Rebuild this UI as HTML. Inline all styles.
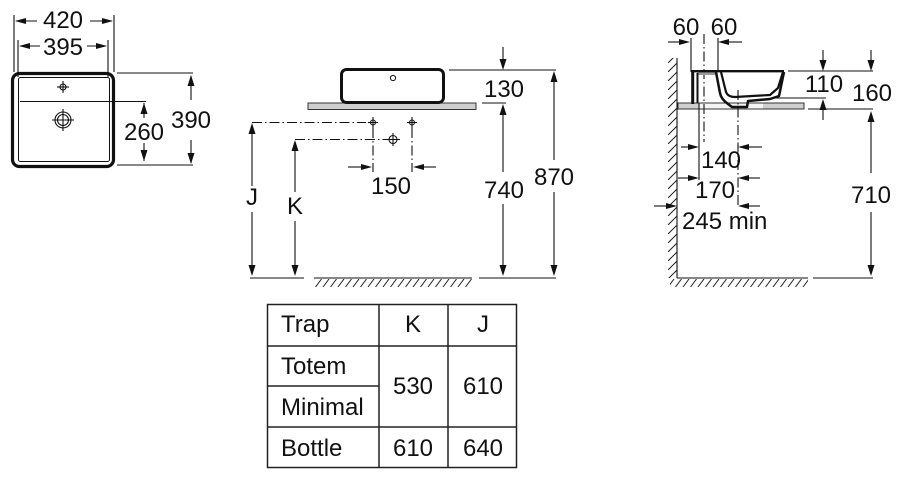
<!DOCTYPE html>
<html><head><meta charset="utf-8"><style>
html,body{margin:0;padding:0;background:#fff;}
svg{display:block;}
text{font-family:"Liberation Sans",Arial,sans-serif;font-size:24px;fill:#111;}
</style></head><body>
<svg width="905" height="477" viewBox="0 0 905 477" xmlns="http://www.w3.org/2000/svg">
<defs>
<pattern id="hf" patternUnits="userSpaceOnUse" x="0" y="279" width="7.5" height="8">
<line x1="0.5" y1="8" x2="6.5" y2="0" stroke="#222" stroke-width="1"/>
</pattern>
<pattern id="hw" patternUnits="userSpaceOnUse" x="668" y="0" width="9" height="9">
<line x1="0" y1="9" x2="9" y2="0" stroke="#222" stroke-width="1"/>
</pattern>
</defs>
<g stroke="#111" stroke-width="1.1" fill="none">
<!-- LEFT PLAN -->
<rect x="12.5" y="73.5" width="101" height="93" rx="7" stroke-width="3.2"/>
<rect x="18.5" y="77.5" width="91" height="84" rx="2" stroke-width="1"/>
<line x1="20" y1="101.5" x2="146" y2="101.5"/>
<circle cx="63" cy="87" r="3"/>
<line x1="57" y1="87" x2="69" y2="87"/><line x1="63" y1="81" x2="63" y2="93"/>
<circle cx="63" cy="120" r="8"/><circle cx="63" cy="120" r="5.5"/>
<line x1="52" y1="120" x2="74" y2="120"/><line x1="63" y1="109" x2="63" y2="131"/>
<!-- 420 / 395 ext -->
<line x1="14" y1="15" x2="14" y2="72"/><line x1="114" y1="15" x2="114" y2="72"/>
<line x1="18" y1="40" x2="18" y2="77"/><line x1="108" y1="40" x2="108" y2="77"/>
<line x1="16" y1="21" x2="37" y2="21"/><line x1="90" y1="21" x2="112" y2="21"/>
<line x1="20" y1="46" x2="40" y2="46"/><line x1="87" y1="46" x2="106" y2="46"/>
<!-- 390 / 260 -->
<line x1="117" y1="73" x2="193" y2="73"/><line x1="117" y1="165" x2="193" y2="165"/>
<line x1="191" y1="76" x2="191" y2="100"/><line x1="191" y1="140" x2="191" y2="163"/>
<line x1="144" y1="103" x2="144" y2="118"/><line x1="144" y1="143" x2="144" y2="161"/>

<!-- MIDDLE -->
<rect x="308" y="103" width="168" height="6.5" fill="#cfcfcf" stroke="#333" stroke-width="1"/>
<rect x="341.5" y="69.5" width="102" height="33" rx="5" stroke-width="3"/>
<circle cx="393" cy="78" r="2.6" stroke-width="1"/>
<line x1="449" y1="70" x2="556" y2="70"/>
<line x1="482" y1="103" x2="506" y2="103"/>
<line x1="503" y1="47" x2="503" y2="62"/>
<line x1="503" y1="112" x2="503" y2="172"/>
<line x1="503" y1="204" x2="503" y2="266"/>
<line x1="554" y1="80" x2="554" y2="160"/>
<line x1="554" y1="192" x2="554" y2="266"/>
<!-- dash dot -->
<g stroke-dasharray="10 3 1.5 3">
<line x1="252" y1="122.5" x2="366" y2="122.5"/>
<line x1="295" y1="139.5" x2="386" y2="139.5"/>
<line x1="373" y1="128" x2="373" y2="172"/>
<line x1="412" y1="128" x2="412" y2="172"/>
</g>
<circle cx="373" cy="122.5" r="2.5"/><line x1="368" y1="122.5" x2="378" y2="122.5"/><line x1="373" y1="117" x2="373" y2="128"/>
<circle cx="412" cy="122.5" r="2.5"/><line x1="407" y1="122.5" x2="417" y2="122.5"/><line x1="412" y1="117" x2="412" y2="128"/>
<circle cx="393" cy="139.5" r="4"/><line x1="386" y1="139.5" x2="400" y2="139.5"/><line x1="393" y1="133" x2="393" y2="146"/>
<line x1="348" y1="167" x2="364" y2="167"/><line x1="421" y1="167" x2="436" y2="167"/>
<line x1="252" y1="131" x2="252" y2="186"/><line x1="252" y1="212" x2="252" y2="266"/>
<line x1="295" y1="148" x2="295" y2="192"/><line x1="295" y1="221" x2="295" y2="266"/>
<line x1="250" y1="278" x2="304" y2="278"/>
<line x1="314" y1="278" x2="472" y2="278"/>
<line x1="479" y1="278" x2="556" y2="278"/>

<!-- RIGHT SIDE -->
<rect x="678" y="103" width="126" height="6" fill="#cfcfcf" stroke="#333" stroke-width="1"/>
<rect x="699" y="103.5" width="64" height="5" fill="#f4f4f4" stroke="none"/>
<line x1="677" y1="58" x2="677" y2="278"/>
<line x1="677" y1="278" x2="808" y2="278"/>
<line x1="813" y1="278" x2="873" y2="278"/>
<line x1="691" y1="38" x2="691" y2="72"/>
<line x1="718" y1="38" x2="718" y2="72"/>
<line x1="668" y1="42" x2="682" y2="42"/><line x1="726" y1="42" x2="742" y2="42"/>
<g stroke-dasharray="10 3 1.5 3">
<line x1="704" y1="34" x2="704" y2="142"/>
<line x1="738" y1="90" x2="738" y2="208"/>
</g>
<line x1="699" y1="103" x2="699" y2="180"/>
<!-- basin profile -->
<rect x="697" y="72" width="20" height="3" fill="#9a9a9a" stroke="none"/>
<line x1="691" y1="71.2" x2="784" y2="71.2" stroke-width="2.4"/>
<line x1="692.7" y1="71" x2="692.7" y2="104" stroke-width="3"/>
<line x1="697.5" y1="73" x2="697.5" y2="103" stroke-width="2"/>
<path d="M716,72 L720,93 Q721,99 728,104 L732,107 L747,107 L748,101 L770,99 L779,96 L784,72" stroke-width="2.5" stroke-linejoin="round"/>
<path d="M721,72 L726,92 Q728,97 735,97 L770,95 L778,88 L783,72" stroke-width="2.2" stroke-linejoin="round"/>
<!-- dims right -->
<line x1="788" y1="71" x2="873" y2="71"/>
<line x1="773" y1="98" x2="826" y2="98"/>
<line x1="808" y1="109" x2="873" y2="109"/>
<line x1="823" y1="50" x2="823" y2="62"/>
<line x1="823" y1="108" x2="823" y2="120"/>
<line x1="871" y1="50" x2="871" y2="62"/>
<line x1="871" y1="120" x2="871" y2="173"/>
<line x1="871" y1="212" x2="871" y2="266"/>
<line x1="681" y1="147" x2="690" y2="147"/><line x1="747" y1="147" x2="762" y2="147"/>
<line x1="678" y1="178" x2="690" y2="178"/><line x1="747" y1="178" x2="760" y2="178"/>
<line x1="654" y1="206" x2="668" y2="206"/><line x1="747" y1="206" x2="760" y2="206"/>

<!-- TABLE -->
<g stroke="#222" stroke-width="1.5">
<rect x="267.5" y="304.5" width="249" height="163"/>
<line x1="379" y1="304" x2="379" y2="468"/>
<line x1="448" y1="304" x2="448" y2="468"/>
<line x1="267" y1="346" x2="517" y2="346"/>
<line x1="267" y1="386" x2="379" y2="386"/>
<line x1="267" y1="427" x2="517" y2="427"/>
</g>
</g>
<!-- hatches -->
<rect x="314" y="279" width="158" height="8" fill="url(#hf)"/>
<rect x="670" y="279" width="138" height="8" fill="url(#hf)"/>
<rect x="668" y="58" width="9" height="220" fill="url(#hw)"/>

<!-- ARROWHEADS -->
<g fill="#111" stroke="none">
<polygon points="15,21 26,18 26,24"/><polygon points="113,21 102,18 102,24"/>
<polygon points="19,46 30,43 30,49"/><polygon points="107,46 96,43 96,49"/>
<polygon points="191,75 187.5,86 194.5,86"/><polygon points="191,164 187.5,153 194.5,153"/>
<polygon points="144,103 140.5,114 147.5,114"/><polygon points="144,161 140.5,150 147.5,150"/>
<polygon points="503,70 499.5,59 506.5,59"/>
<polygon points="503,104 499.5,115 506.5,115"/>
<polygon points="503,276 499.5,265 506.5,265"/>
<polygon points="554,71 550.5,82 557.5,82"/>
<polygon points="554,276 550.5,265 557.5,265"/>
<polygon points="252,123 248.5,134 255.5,134"/>
<polygon points="252,276 248.5,265 255.5,265"/>
<polygon points="295,140 291.5,151 298.5,151"/>
<polygon points="295,276 291.5,265 298.5,265"/>
<polygon points="372,167 361,164 361,170"/><polygon points="413,167 424,164 424,170"/>
<polygon points="690,42 679,39 679,45"/><polygon points="718,42 729,39 729,45"/>
<polygon points="823,71 819.5,60 826.5,60"/><polygon points="823,99 819.5,110 826.5,110"/>
<polygon points="871,71 867.5,60 874.5,60"/><polygon points="871,111 867.5,122 874.5,122"/>
<polygon points="871,276 867.5,265 874.5,265"/>
<polygon points="699,147 688,144 688,150"/><polygon points="738,147 749,144 749,150"/>
<polygon points="699,178 688,175 688,181"/><polygon points="738,178 749,175 749,181"/>
<polygon points="677,206 666,203 666,209"/><polygon points="738,206 749,203 749,209"/>
</g>

<!-- TEXT -->
<g text-anchor="middle">
<text x="63" y="28">420</text>
<text x="63" y="55">395</text>
<text x="144" y="140">260</text>
<text x="191" y="128">390</text>
<text x="504" y="97">130</text>
<text x="504" y="198">740</text>
<text x="554" y="185">870</text>
<text x="391" y="194">150</text>
<text x="252" y="205">J</text>
<text x="295" y="214">K</text>
<text x="686" y="35">60</text>
<text x="724" y="35">60</text>
<text x="824" y="92">110</text>
<text x="872" y="101">160</text>
<text x="721" y="168">140</text>
<text x="715" y="198">170</text>
<text x="871" y="203">710</text>
<text x="413" y="332">K</text>
<text x="483" y="332">J</text>
<text x="413" y="394">530</text>
<text x="483" y="394">610</text>
<text x="413" y="456">610</text>
<text x="483" y="456">640</text>
</g>
<text x="682" y="229">245 min</text>
<text x="281" y="332">Trap</text>
<text x="281" y="374">Totem</text>
<text x="281" y="415">Minimal</text>
<text x="281" y="456">Bottle</text>
</svg>
</body></html>
